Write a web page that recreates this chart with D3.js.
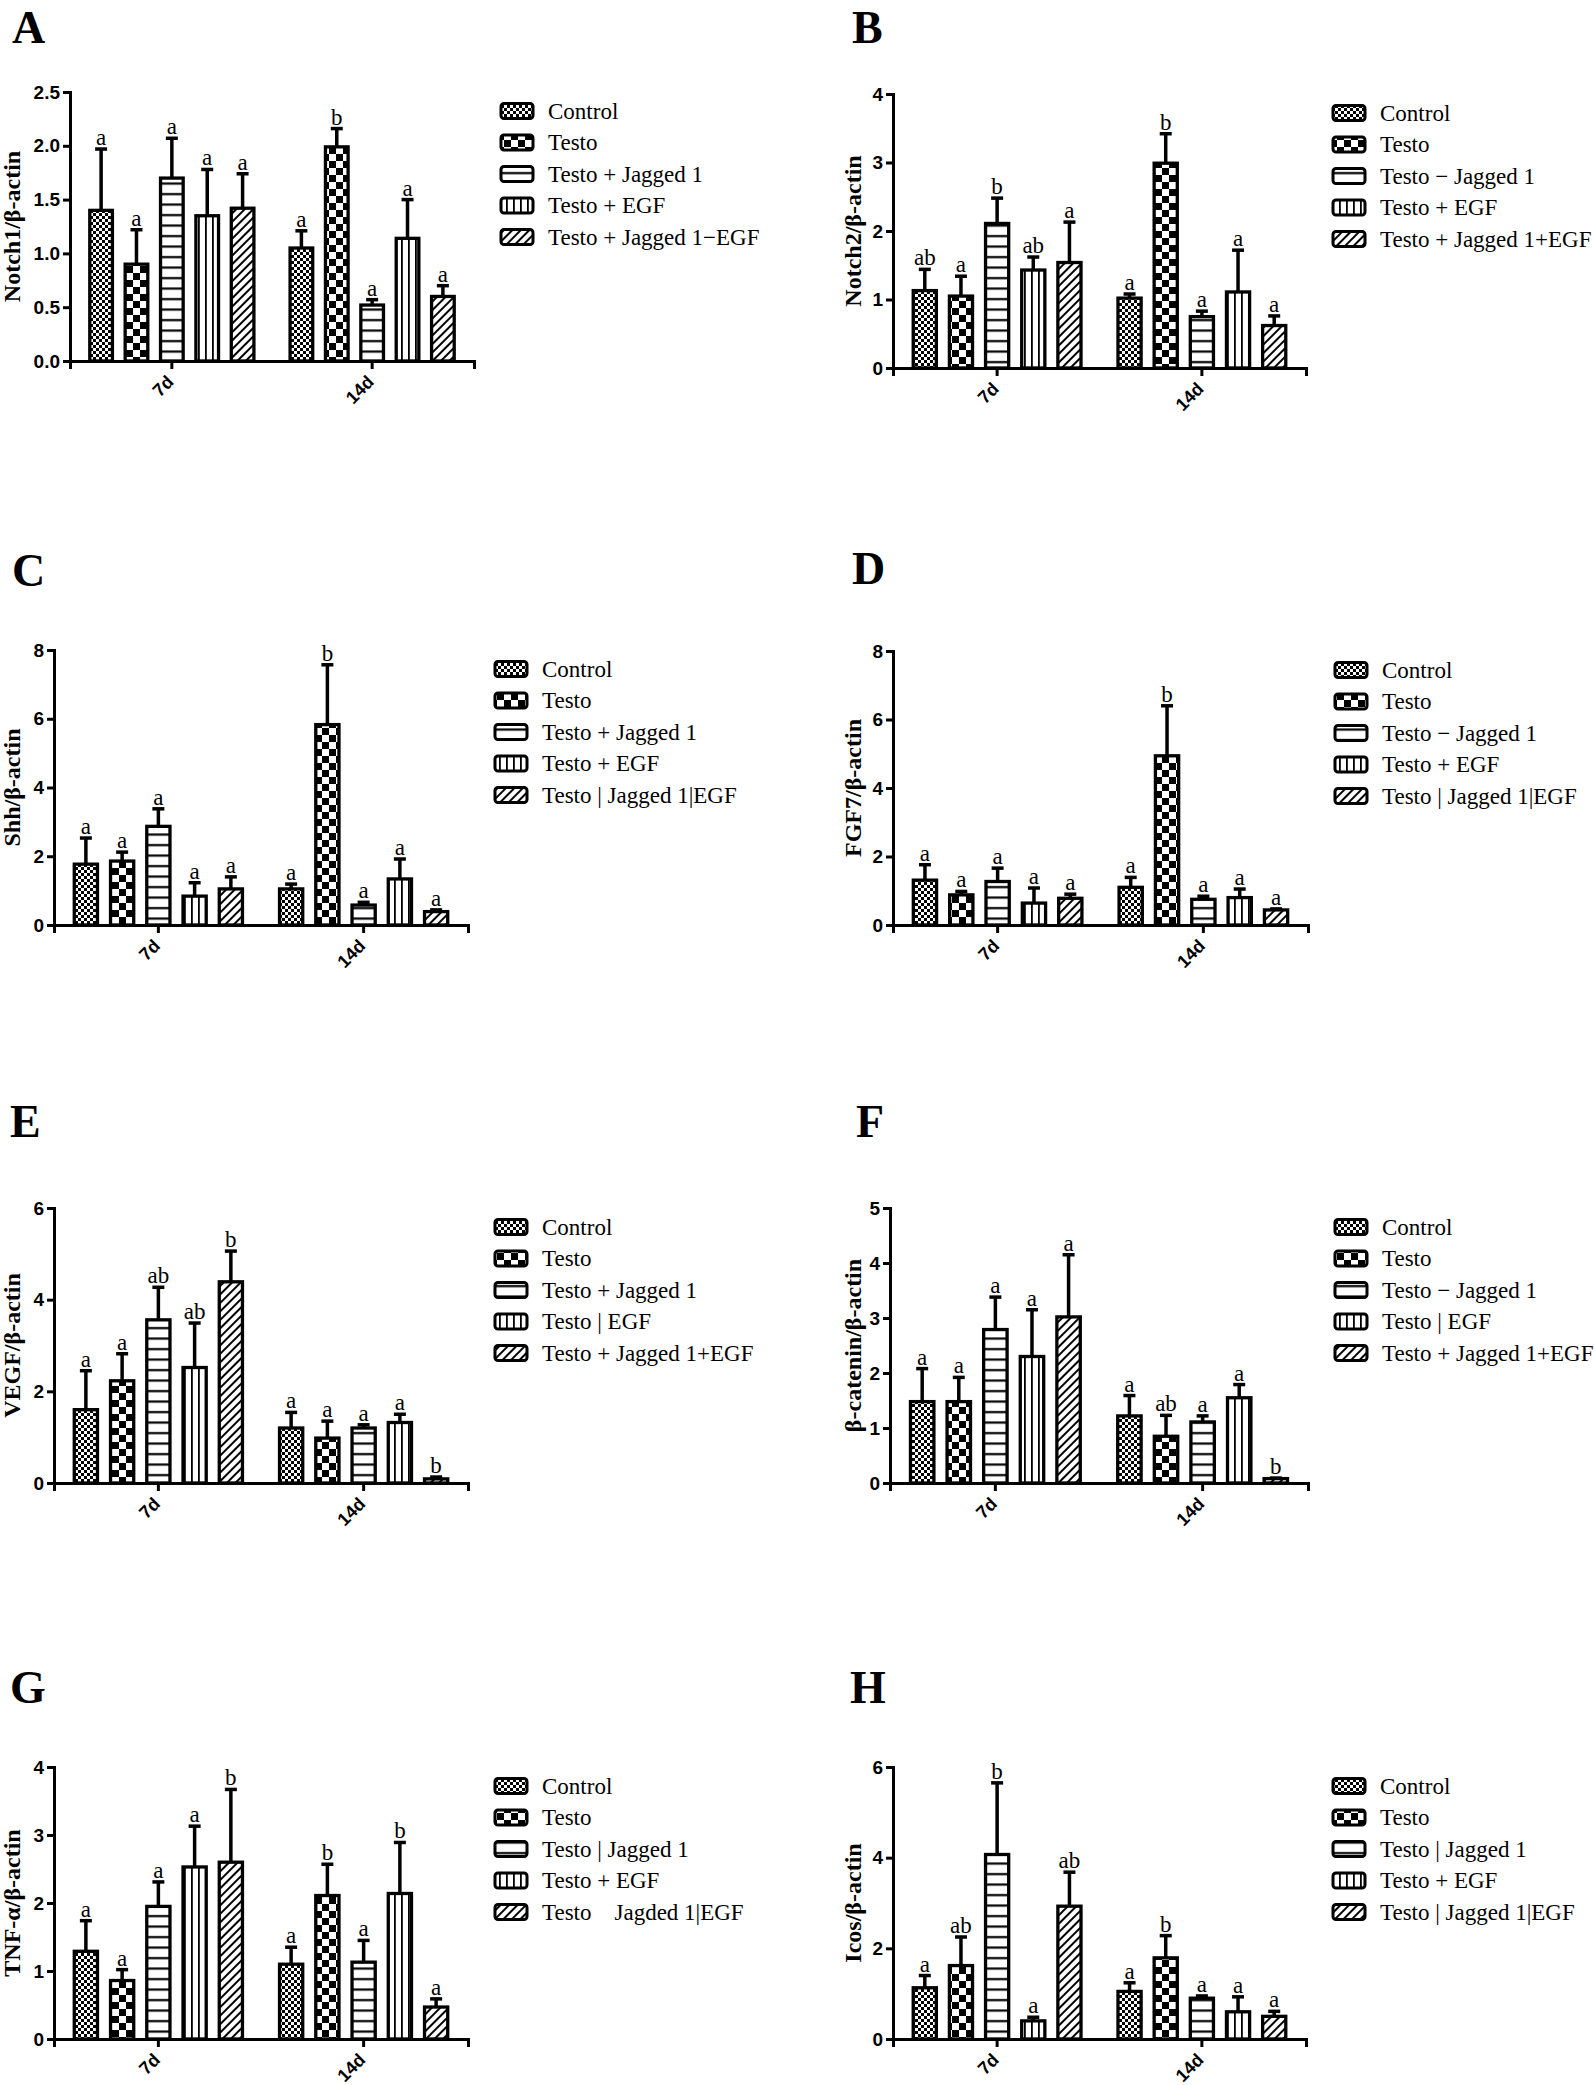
<!DOCTYPE html>
<html>
<meta charset="utf-8">
<head>
<title>Notch / EGF panels</title>
<script src="https://cdnjs.cloudflare.com/ajax/libs/d3/7.8.5/d3.min.js"></script>
<style>
  body { margin: 0; background: #fff; }
</style>
</head>
<body>
<script>

const width = 1594,
    height = 2085;

// Groups and treatments
const groups = ["7d", "14d"];
const treatments = ["Control", "Testo", "TJ", "TE", "TJE"];

// Values: 7d (Control, Testo, T+J, T+E, T+J+E), then 14d in same order
const notch1Mean = [1.40, 0.90, 1.70, 1.35, 1.42, 1.05, 1.99, 0.52, 1.14, 0.60];
const notch1Err  = [0.57, 0.32, 0.37, 0.43, 0.32, 0.16, 0.17, 0.05, 0.36, 0.10];
const notch1Sig  = ["a", "a", "a", "a", "a", "a", "b", "a", "a", "a"];
const notch1Ticks = [0, 0.5, 1.0, 1.5, 2.0, 2.5];

const notch2Mean = [1.13, 1.05, 2.11, 1.43, 1.54, 1.02, 2.99, 0.75, 1.11, 0.62];
const notch2Err  = [0.31, 0.29, 0.37, 0.19, 0.59, 0.06, 0.43, 0.08, 0.61, 0.14];
const notch2Sig  = ["ab", "a", "b", "ab", "a", "a", "b", "a", "a", "a"];
const notch2Ticks = [0, 1, 2, 3, 4];

const shhMean = [1.77, 1.86, 2.87, 0.84, 1.05, 1.05, 5.83, 0.58, 1.34, 0.39];
const shhErr  = [0.76, 0.26, 0.51, 0.39, 0.35, 0.14, 1.74, 0.08, 0.58, 0.05];
const shhSig  = ["a", "a", "a", "a", "a", "a", "b", "a", "a", "a"];
const shhTicks = [0, 2, 4, 6, 8];

const fgf7Mean = [1.31, 0.88, 1.27, 0.64, 0.78, 1.10, 4.94, 0.75, 0.80, 0.44];
const fgf7Err  = [0.45, 0.10, 0.39, 0.44, 0.12, 0.29, 1.46, 0.09, 0.25, 0.03];
const fgf7Sig  = ["a", "a", "a", "a", "a", "a", "b", "a", "a", "a"];
const fgf7Ticks = [0, 2, 4, 6, 8];

const vegfMean = [1.60, 2.23, 3.56, 2.52, 4.39, 1.20, 0.98, 1.20, 1.32, 0.09];
const vegfErr  = [0.85, 0.59, 0.71, 0.97, 0.67, 0.34, 0.37, 0.07, 0.18, 0.04];
const vegfSig  = ["a", "a", "ab", "ab", "b", "a", "a", "a", "a", "b"];
const vegfTicks = [0, 2, 4, 6];

const ctnnbMean = [1.48, 1.48, 2.79, 2.30, 3.02, 1.22, 0.85, 1.11, 1.55, 0.08];
const ctnnbErr  = [0.60, 0.44, 0.59, 0.85, 1.13, 0.37, 0.38, 0.11, 0.24, 0.01];
const ctnnbSig  = ["a", "a", "a", "a", "a", "a", "ab", "a", "a", "b"];
const ctnnbTicks = [0, 1, 2, 3, 4, 5];

const tnfMean = [1.29, 0.86, 1.95, 2.53, 2.60, 1.10, 2.11, 1.13, 2.14, 0.47];
const tnfErr  = [0.45, 0.16, 0.36, 0.60, 1.07, 0.25, 0.46, 0.32, 0.75, 0.12];
const tnfSig  = ["a", "a", "a", "a", "b", "a", "b", "a", "b", "a"];
const tnfTicks = [0, 1, 2, 3, 4];

const icosMean = [1.13, 1.62, 4.07, 0.40, 2.93, 1.05, 1.79, 0.90, 0.60, 0.50];
const icosErr  = [0.27, 0.63, 1.58, 0.08, 0.75, 0.19, 0.49, 0.05, 0.33, 0.11];
const icosSig  = ["a", "ab", "b", "a", "ab", "a", "b", "a", "a", "a"];
const icosTicks = [0, 2, 4, 6];

// Legend texts as printed in each panel
const legendA = ["Control", "Testo", "Testo + Jagged 1", "Testo + EGF", "Testo + Jagged 1\u2212EGF"];
const legendB = ["Control", "Testo", "Testo \u2212 Jagged 1", "Testo + EGF", "Testo + Jagged 1+EGF"];
const legendC = ["Control", "Testo", "Testo + Jagged 1", "Testo + EGF", "Testo | Jagged 1|EGF"];
const legendD = ["Control", "Testo", "Testo \u2212 Jagged 1", "Testo + EGF", "Testo | Jagged 1|EGF"];
const legendE = ["Control", "Testo", "Testo + Jagged 1", "Testo | EGF", "Testo + Jagged 1+EGF"];
const legendF = ["Control", "Testo", "Testo \u2212 Jagged 1", "Testo | EGF", "Testo + Jagged 1+EGF"];
const legendG = ["Control", "Testo", "Testo | Jagged 1", "Testo + EGF", "Testo    Jagded 1|EGF"];
const legendH = ["Control", "Testo", "Testo | Jagged 1", "Testo + EGF", "Testo | Jagged 1|EGF"];

const panels = [
    {letter: "A", label: "Notch1/\u03b2-actin", mean: notch1Mean, err: notch1Err, sig: notch1Sig, ticks: notch1Ticks, fmt: ".1f", legend: legendA},
    {letter: "B", label: "Notch2/\u03b2-actin", mean: notch2Mean, err: notch2Err, sig: notch2Sig, ticks: notch2Ticks, fmt: "d", legend: legendB},
    {letter: "C", label: "Shh/\u03b2-actin", mean: shhMean, err: shhErr, sig: shhSig, ticks: shhTicks, fmt: "d", legend: legendC},
    {letter: "D", label: "FGF7/\u03b2-actin", mean: fgf7Mean, err: fgf7Err, sig: fgf7Sig, ticks: fgf7Ticks, fmt: "d", legend: legendD},
    {letter: "E", label: "VEGF/\u03b2-actin", mean: vegfMean, err: vegfErr, sig: vegfSig, ticks: vegfTicks, fmt: "d", legend: legendE},
    {letter: "F", label: "\u03b2-catenin/\u03b2-actin", mean: ctnnbMean, err: ctnnbErr, sig: ctnnbSig, ticks: ctnnbTicks, fmt: "d", legend: legendF},
    {letter: "G", label: "TNF-\u03b1/\u03b2-actin", mean: tnfMean, err: tnfErr, sig: tnfSig, ticks: tnfTicks, fmt: "d", legend: legendG},
    {letter: "H", label: "Icos/\u03b2-actin", mean: icosMean, err: icosErr, sig: icosSig, ticks: icosTicks, fmt: "d", legend: legendH}
];

// Where each panel sits on the page
const layout = [
    {axisX: 70,  right: 474, top: 92,   bottom: 361,  letterX: 12,  letterY: 43,   labelX: 12},
    {axisX: 893, right: 1306, top: 94,  bottom: 368,  letterX: 852, letterY: 43,   labelX: 853},
    {axisX: 54,  right: 468, top: 650,  bottom: 925,  letterX: 12,  letterY: 586,  labelX: 12},
    {axisX: 893, right: 1308, top: 651, bottom: 925,  letterX: 852, letterY: 584,  labelX: 853},
    {axisX: 54,  right: 468, top: 1208, bottom: 1483, letterX: 10,  letterY: 1137, labelX: 12},
    {axisX: 890, right: 1308, top: 1208, bottom: 1483, letterX: 856, letterY: 1137, labelX: 853},
    {axisX: 54,  right: 468, top: 1767, bottom: 2039, letterX: 10,  letterY: 1703, labelX: 12},
    {axisX: 893, right: 1306, top: 1767, bottom: 2039, letterX: 850, letterY: 1703, labelX: 853}
];

const serif = "'Liberation Serif', 'Times New Roman', serif";
const sans = "'Liberation Sans', Arial, sans-serif";

const svg = d3.select("body")
    .append("svg")
    .attr("width", width)
    .attr("height", height);

svg.append("rect").attr("width", width).attr("height", height).attr("fill", "#fff");

// Fill patterns, one per treatment
const defs = svg.append("defs");

function pattern(id, w, h) {
    const p = defs.append("pattern")
        .attr("id", id)
        .attr("patternUnits", "userSpaceOnUse")
        .attr("width", w)
        .attr("height", h);
    p.append("rect").attr("width", w).attr("height", h).attr("fill", "#fff");
    return p;
}

const pFine = pattern("p-Control", 6, 6);
pFine.append("rect").attr("width", 3).attr("height", 3).attr("fill", "#000");
pFine.append("rect").attr("x", 3).attr("y", 3).attr("width", 3).attr("height", 3).attr("fill", "#000");

const pCoarse = pattern("p-Testo", 14, 14);
pCoarse.append("rect").attr("width", 7).attr("height", 7).attr("fill", "#000");
pCoarse.append("rect").attr("x", 7).attr("y", 7).attr("width", 7).attr("height", 7).attr("fill", "#000");

const pH = pattern("p-TJ", 10, 10.5);
pH.append("rect").attr("y", 4).attr("width", 10).attr("height", 2.2).attr("fill", "#000");

const pV = pattern("p-TE", 7, 10);
pV.append("rect").attr("x", 2).attr("width", 1.8).attr("height", 10).attr("fill", "#000");

const pD = pattern("p-TJE", 6, 6).attr("patternTransform", "rotate(45)");
pD.append("rect").attr("x", 2).attr("width", 2).attr("height", 6).attr("fill", "#000");

panels.forEach((p, k) => {
    const L = layout[k];
    const g = svg.append("g");

    const y = d3.scaleLinear()
        .domain([0, d3.max(p.ticks)])
        .range([L.bottom, L.top]);

    const x0 = d3.scaleBand()
        .domain(groups)
        .range([L.axisX, L.right])
        .paddingInner(0.117)
        .paddingOuter(0.067);

    const x1 = d3.scaleBand()
        .domain(treatments)
        .range([0, x0.bandwidth()])
        .paddingInner(0.36)
        .paddingOuter(0.18);

    const rows = p.mean.map((m, i) => ({
        group: groups[Math.floor(i / 5)],
        treatment: treatments[i % 5],
        mean: m,
        err: p.err[i],
        sig: p.sig[i]
    }));
    const cx = d => x0(d.group) + x1(d.treatment) + x1.bandwidth() / 2;

    // Error bars (upper only)
    g.selectAll("line.stem")
        .data(rows)
        .enter()
        .append("line")
        .attr("x1", cx)
        .attr("x2", cx)
        .attr("y1", d => y(d.mean))
        .attr("y2", d => y(d.mean + d.err))
        .attr("stroke", "#000")
        .attr("stroke-width", 3.5);
    g.selectAll("line.cap")
        .data(rows)
        .enter()
        .append("line")
        .attr("x1", d => cx(d) - 6)
        .attr("x2", d => cx(d) + 6)
        .attr("y1", d => y(d.mean + d.err))
        .attr("y2", d => y(d.mean + d.err))
        .attr("stroke", "#000")
        .attr("stroke-width", 3.5);

    // Bars
    g.selectAll("rect.bar")
        .data(rows)
        .enter()
        .append("rect")
        .attr("x", d => x0(d.group) + x1(d.treatment))
        .attr("y", d => y(d.mean))
        .attr("width", x1.bandwidth())
        .attr("height", d => y(0) - y(d.mean))
        .attr("fill", d => "url(#p-" + d.treatment + ")")
        .attr("stroke", "#000")
        .attr("stroke-width", 3.3);

    // Significance letters
    g.selectAll("text.sig")
        .data(rows)
        .enter()
        .append("text")
        .attr("x", cx)
        .attr("y", d => y(d.mean + d.err) - 4)
        .attr("text-anchor", "middle")
        .attr("font-family", serif)
        .attr("font-size", "23px")
        .text(d => d.sig);

    // Y axis
    const yAxis = g.append("g")
        .attr("transform", "translate(" + L.axisX + ",0)")
        .call(d3.axisLeft(y)
            .tickValues(p.ticks)
            .tickFormat(d3.format(p.fmt))
            .tickSizeOuter(0)
            .tickSize(7)
            .tickPadding(3));
    yAxis.selectAll("path, line").attr("stroke", "#000").attr("stroke-width", 3);
    yAxis.selectAll("text")
        .attr("font-family", sans)
        .attr("font-weight", "bold")
        .attr("font-size", "19px")
        .attr("fill", "#000");

    // X axis
    const xAxis = g.append("g")
        .attr("transform", "translate(0," + L.bottom + ")")
        .call(d3.axisBottom(x0).tickSizeOuter(0).tickSize(8));
    xAxis.selectAll("path, line").attr("stroke", "#000").attr("stroke-width", 3);
    xAxis.selectAll("text")
        .attr("font-family", sans)
        .attr("font-weight", "bold")
        .attr("font-size", "18px")
        .attr("fill", "#000")
        .attr("text-anchor", "end")
        .attr("y", 0)
        .attr("dy", 0)
        .attr("transform", "translate(3,22) rotate(-45)");

    // Y label
    g.append("text")
        .attr("transform", "translate(" + L.labelX + "," + (L.top + L.bottom) / 2 + ") rotate(-90)")
        .attr("dy", "0.35em")
        .attr("text-anchor", "middle")
        .attr("font-family", serif)
        .attr("font-weight", "bold")
        .attr("font-size", "24px")
        .text(p.label);

    // Panel letter
    g.append("text")
        .attr("x", L.letterX)
        .attr("y", L.letterY)
        .attr("font-family", serif)
        .attr("font-weight", "bold")
        .attr("font-size", "46px")
        .text(p.letter);

    // Legend
    const lx = L.right + 27,
        ly = L.top + 19;
    g.selectAll("rect.key")
        .data(treatments)
        .enter()
        .append("rect")
        .attr("x", lx)
        .attr("y", (d, i) => ly + i * 31.5 - 7.5)
        .attr("width", 32)
        .attr("height", 15)
        .attr("rx", 3)
        .attr("fill", d => "url(#p-" + d + ")")
        .attr("stroke", "#000")
        .attr("stroke-width", 3);
    g.selectAll("text.key")
        .data(p.legend)
        .enter()
        .append("text")
        .attr("x", lx + 47)
        .attr("y", (d, i) => ly + i * 31.5 + 7.5)
        .attr("font-family", serif)
        .attr("font-size", "23px")
        .attr("xml:space", "preserve")
        .style("white-space", "pre")
        .text(d => d);
});

</script>
</body>
</html>
